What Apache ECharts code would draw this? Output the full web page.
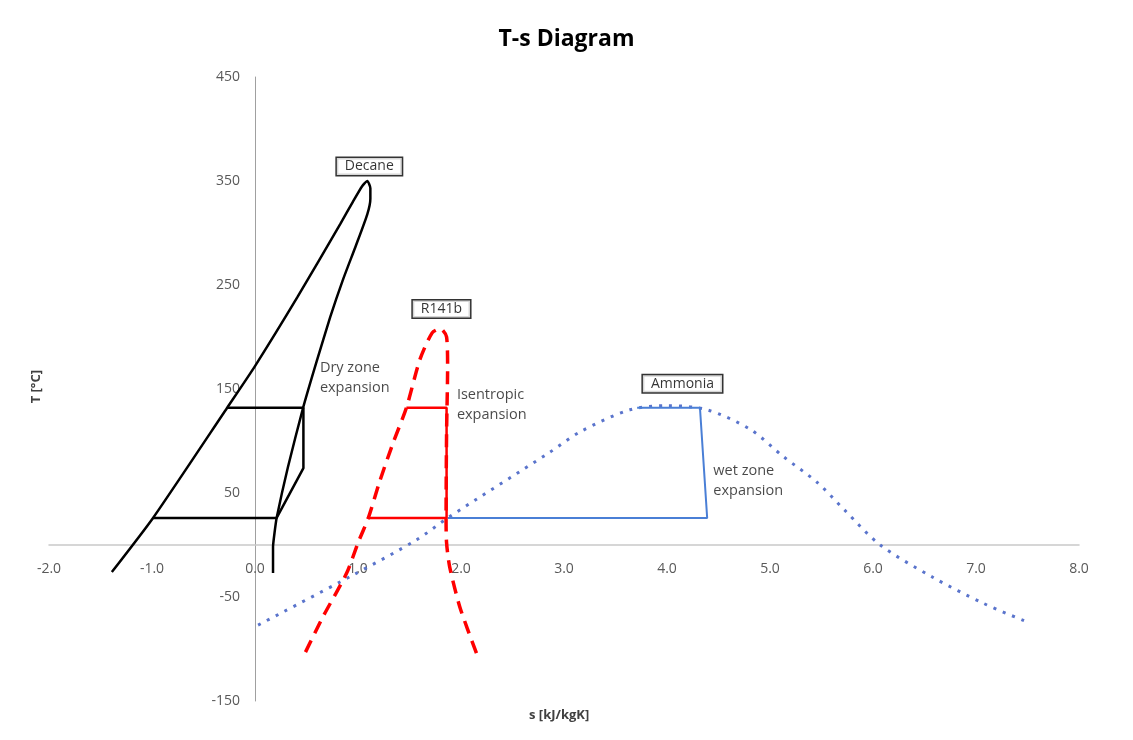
<!DOCTYPE html>
<html>
<head>
<meta charset="utf-8">
<script src="https://cdn.jsdelivr.net/npm/echarts@6/dist/echarts.min.js"></script>
<style>
  html, body { margin: 0; padding: 0; background: #fff; }
  #chart { width: 1133px; height: 740px; }
</style>
</head>
<body>
<div id="chart"></div>
<script>
// s [kJ/kgK], T [°C]
var decaneDome = [
  [-1.39, -26], [-0.99, 26], [-0.27, 132], [0, 172], [0.41, 238],
  [0.83, 309], [0.95, 330], [1.04, 345], [1.09, 350], [1.12, 343], [1.12, 333],
  [1.09, 318], [0.98, 288], [0.85, 254], [0.73, 219], [0.60, 177], [0.47, 133],
  [0.32, 75], [0.21, 26], [0.19, 12], [0.175, -2], [0.175, -27]
];
var decaneCycle = [[-0.27, 132], [0.47, 132], [0.47, 74], [0.21, 26], [-0.99, 26]];

var r141bDome = [
  [0.49, -103], [0.66, -69], [0.89, -27], [1.0, 2], [1.10, 26], [1.21, 61],
  [1.34, 98], [1.47, 132], [1.60, 178], [1.72, 204], [1.80, 208], [1.86, 200],
  [1.87, 171], [1.86, 108], [1.855, 27], [1.86, 2], [1.89, -21], [1.99, -60], [2.15, -104]
];
var r141bCycle = [[1.10, 26], [1.86, 26], [1.86, 132], [1.47, 132]];

var ammoniaDome = [
  [0.03, -77], [0.95, -29], [1.57, 5], [1.87, 26], [2.86, 89], [3.16, 109],
  [3.64, 130], [4.0, 134], [4.39, 130], [4.81, 111], [5.13, 85], [5.46, 60],
  [5.73, 33], [6.07, 0], [6.58, -31], [7.07, -56], [7.52, -75]
];
var ammoniaCycle = [[1.87, 26], [4.39, 26], [4.32, 132], [3.71, 132]];

var fluidTags = [
  { name: 'Decane', value: [1.11, 364] },
  { name: 'R141b', value: [1.81, 227] },
  { name: 'Ammonia', value: [4.15, 155] }
];
var notes = [
  { name: 'Dry zone\nexpansion', value: [0.63, 161] },
  { name: 'Isentropic\nexpansion', value: [1.96, 135] },
  { name: 'wet zone\nexpansion', value: [4.45, 62] }
];

var sRange = [-2, 8];
var tRange = [-150, 450];

var font = 'Open Sans';
var W = 1133, H = 740;
var grid = { left: 49, right: 54, top: 77, bottom: 39 };
var gridW = W - grid.left - grid.right;
var gridH = H - grid.top - grid.bottom;
// axes cross at the origin, like the spreadsheet chart
var xOffset = -(0 - tRange[0]) / (tRange[1] - tRange[0]) * gridH;
var yOffset = -(0 - sRange[0]) / (sRange[1] - sRange[0]) * gridW;

var chart = echarts.init(document.getElementById('chart'));

function curve(data, color, width, type, smooth) {
  return {
    type: 'line', data: data, showSymbol: false, symbol: 'none', smooth: smooth,
    lineStyle: { color: color, width: width, type: type, cap: 'butt' },
    silent: true
  };
}

var option = {
  animation: false,
  backgroundColor: '#fff',
  textStyle: { fontFamily: font },
  title: {
    text: 'T-s Diagram', left: 'center', top: 23,
    textStyle: { fontFamily: font, fontSize: 23, fontWeight: 'bold', color: '#000' }
  },
  grid: grid,
  xAxis: {
    type: 'value', min: sRange[0], max: sRange[1], interval: 1,
    position: 'bottom', offset: xOffset,
    axisLine: { onZero: false, lineStyle: { color: '#c9c9c9', width: 1.5 } },
    axisTick: { show: false },
    splitLine: { show: false },
    axisLabel: {
      color: '#595959', fontSize: 14, margin: 17,
      formatter: function (v) { return v.toFixed(1); }
    }
  },
  yAxis: {
    type: 'value', min: tRange[0], max: tRange[1], interval: 100,
    position: 'left', offset: yOffset,
    axisLine: { show: true, onZero: false, lineStyle: { color: '#a0a0a0', width: 1 } },
    axisTick: { show: false },
    splitLine: { show: false },
    axisLabel: { color: '#595959', fontSize: 14, margin: 15 }
  },
  graphic: [
    {
      type: 'text', left: 30, top: 370, rotation: Math.PI / 2,
      style: { text: 'T [°C]', font: 'bold 13px ' + font, fill: '#404040' }
    },
    {
      type: 'text', left: 529, top: 709,
      style: { text: 's [kJ/kgK]', font: 'bold 13px ' + font, fill: '#404040' }
    }
  ],
  series: [
    curve(ammoniaDome, '#5a74cc', 3, [3, 7], 0.3),
    curve(ammoniaCycle, '#4a7fd6', 2, 'solid', false),
    curve(decaneDome, '#000', 2.5, 'solid', 0.2),
    curve(decaneCycle, '#000', 2.5, 'solid', false),
    curve(r141bCycle, '#ff0000', 2.5, 'solid', false),
    curve(r141bDome, '#ff0000', 3.5, [13, 8], 0.25),
    {
      type: 'scatter', data: fluidTags, symbolSize: 0, silent: true,
      label: {
        show: true, position: 'inside', formatter: '{b}',
        fontFamily: font, fontSize: 14, color: '#000',
        backgroundColor: '#fff', borderColor: '#000', borderWidth: 1.5,
        padding: [2, 8, 1, 8]
      }
    },
    {
      type: 'scatter', data: notes, symbolSize: 0, silent: true,
      label: {
        show: true, position: 'right', distance: 0, formatter: '{b}',
        align: 'left', fontFamily: font, fontSize: 14.5, lineHeight: 20, color: '#1a1a1a'
      }
    }
  ]
};
chart.setOption(option);
</script>
</body>
</html>
